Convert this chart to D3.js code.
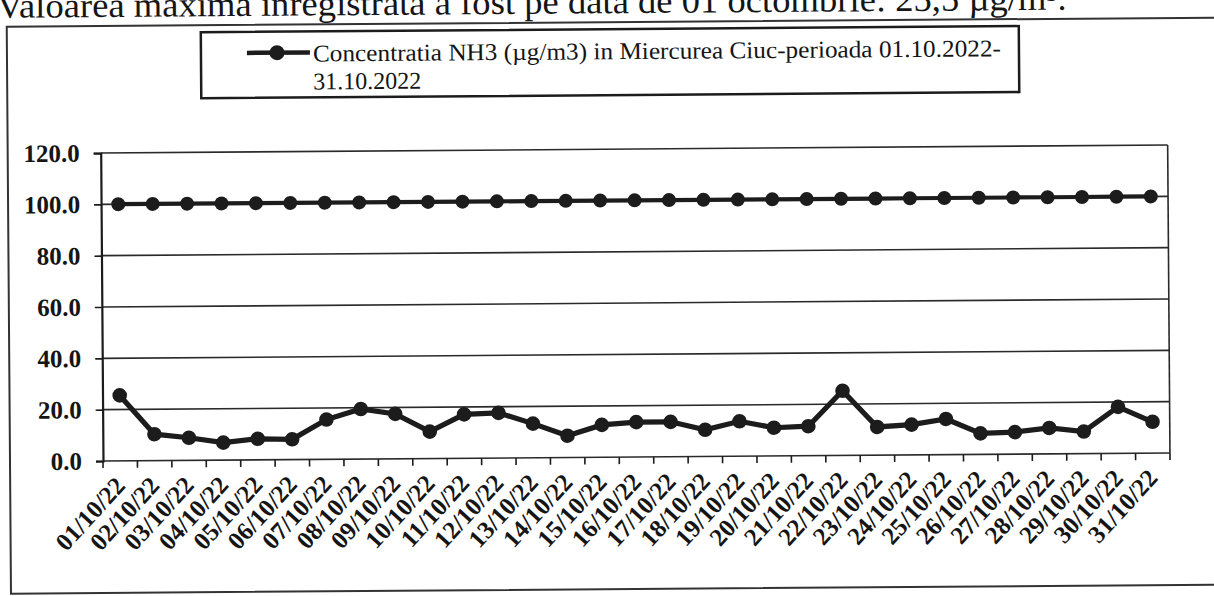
<!DOCTYPE html>
<html>
<head>
<meta charset="utf-8">
<script src="https://cdn.jsdelivr.net/npm/d3@7"></script>
<style>
  body { margin: 0; background: #fff; }
  text { font-family: "Liberation Serif", "Times New Roman", serif; fill: #151515; }
</style>
</head>
<body>
<div id="chart"></div>
<script>
// daily values
var dates = ["01/10/22", "02/10/22", "03/10/22", "04/10/22", "05/10/22", "06/10/22",
    "07/10/22", "08/10/22", "09/10/22", "10/10/22", "11/10/22", "12/10/22", "13/10/22",
    "14/10/22", "15/10/22", "16/10/22", "17/10/22", "18/10/22", "19/10/22", "20/10/22",
    "21/10/22", "22/10/22", "23/10/22", "24/10/22", "25/10/22", "26/10/22", "27/10/22",
    "28/10/22", "29/10/22", "30/10/22", "31/10/22"];
var nh3 = [25.5, 10.3, 8.8, 6.8, 8.2, 7.9, 15.5, 19.5, 17.5, 10.5, 17.1, 17.6, 13.3,
    8.5, 12.6, 13.6, 13.6, 10.4, 13.6, 11.0, 11.5, 25.2, 11.0, 11.8, 13.9, 8.2, 8.6,
    10.1, 8.6, 18.1, 12.2];
var limita = [100, 100, 100, 100, 100, 100, 100, 100, 100, 100, 100, 100, 100, 100, 100,
    100, 100, 100, 100, 100, 100, 100, 100, 100, 100, 100, 100, 100, 100, 100, 100];
var yTicks = [0, 20, 40, 60, 80, 100, 120];
var headerText = "Valoarea maxima inregistrata a fost pe data de 01 octombrie: 25,5 \u00b5g/m\u00b3.";
var legendLine1 = "Concentratia NH3 (\u00b5g/m3) in Miercurea Ciuc-perioada 01.10.2022-";
var legendLine2 = "31.10.2022";

function draw()
{
    var width = 1214, height = 596;
    var plotLeft = 103, plotRight = 1170, plotTop = 153, plotBottom = 461;
    var ink = "#1c1c1c";

    var svg = d3.select("#chart").append("svg")
            .attr("width", width)
            .attr("height", height);

    // the scan is slightly tilted, whole page turns a bit
    var page = svg.append("g")
            .attr("transform", "rotate(-0.43, " + plotLeft + ", " + plotBottom + ")");

    page.append("text")
            .attr("x", 0).attr("y", 17)
            .attr("font-size", 35)
            .attr("textLength", 1070)
            .attr("lengthAdjust", "spacingAndGlyphs")
            .text(headerText);

    // outer frame
    page.append("rect")
            .attr("x", 10).attr("y", 26)
            .attr("width", 1230).attr("height", 567)
            .attr("fill", "none")
            .attr("stroke", "#333")
            .attr("stroke-width", 2);

    // legend
    var legend = page.append("g");
    legend.append("rect")
            .attr("x", 204).attr("y", 33)
            .attr("width", 818).attr("height", 66)
            .attr("fill", "#fff")
            .attr("stroke", ink)
            .attr("stroke-width", 2.5);
    legend.append("line")
            .attr("x1", 250).attr("x2", 313)
            .attr("y1", 54).attr("y2", 54)
            .attr("stroke", ink).attr("stroke-width", 4.5);
    legend.append("circle")
            .attr("cx", 280).attr("cy", 54).attr("r", 7.5)
            .attr("fill", ink);
    legend.append("text")
            .attr("x", 316).attr("y", 63)
            .attr("font-size", 24)
            .attr("textLength", 688)
            .attr("lengthAdjust", "spacingAndGlyphs")
            .text(legendLine1);
    legend.append("text")
            .attr("x", 316).attr("y", 91)
            .attr("font-size", 24)
            .text(legendLine2);

    var x = d3.scaleBand().domain(dates).range([plotLeft, plotRight]).padding(0);
    var y = d3.scaleLinear().domain([0, 120]).range([plotBottom, plotTop]);
    var cx = function (d) { return x(d) + x.bandwidth() / 2; };

    var chart = page.append("g");

    // gridlines
    chart.selectAll("line.grid")
            .data(yTicks)
            .enter().append("line")
            .attr("class", "grid")
            .attr("x1", plotLeft).attr("x2", plotRight)
            .attr("y1", function (d) { return y(d); })
            .attr("y2", function (d) { return y(d); })
            .attr("stroke", "#2a2a2a")
            .attr("stroke-width", 1.6);

    // right border of the plot area
    chart.append("line")
            .attr("x1", plotRight).attr("x2", plotRight)
            .attr("y1", y(120)).attr("y2", y(0))
            .attr("stroke", "#2a2a2a").attr("stroke-width", 1.6);

    // y axis
    var yAxis = chart.append("g")
            .attr("transform", "translate(" + plotLeft + ",0)")
            .call(d3.axisLeft(y).tickValues(yTicks).tickFormat(d3.format(".1f")).tickSize(7).tickPadding(14));
    yAxis.select(".domain").attr("stroke", ink).attr("stroke-width", 2.2);
    yAxis.selectAll(".tick line").attr("stroke", ink).attr("stroke-width", 1.6);
    yAxis.selectAll(".tick text")
            .attr("font-family", "Liberation Serif, serif")
            .attr("font-size", 25)
            .attr("font-weight", "bold")
            .attr("fill", "#151515");

    // x axis: labels under each day, ticks on the day boundaries
    var xAxis = chart.append("g")
            .attr("transform", "translate(0," + plotBottom + ")")
            .call(d3.axisBottom(x).tickSize(0).tickPadding(0));
    xAxis.select(".domain").remove();
    xAxis.selectAll(".tick text")
            .attr("font-family", "Liberation Serif, serif")
            .attr("font-size", 25)
            .attr("font-weight", "bold")
            .attr("fill", "#151515")
            .attr("text-anchor", "end")
            .attr("dy", 0)
            .attr("transform", "translate(6,26) rotate(-47)");

    var edges = dates.map(function (d) { return x(d); }).concat([plotRight]);
    chart.selectAll("line.xtick")
            .data(edges)
            .enter().append("line")
            .attr("class", "xtick")
            .attr("x1", function (d) { return d; })
            .attr("x2", function (d) { return d; })
            .attr("y1", plotBottom).attr("y2", plotBottom + 7)
            .attr("stroke", ink).attr("stroke-width", 1.6);

    // series
    var line = d3.line()
            .x(function (d, i) { return cx(dates[i]); })
            .y(function (d) { return y(d); });

    chart.append("path")
            .datum(limita)
            .attr("d", line)
            .attr("fill", "none")
            .attr("stroke", ink)
            .attr("stroke-width", 4.2);
    chart.selectAll("circle.lim")
            .data(limita)
            .enter().append("circle")
            .attr("class", "lim")
            .attr("cx", function (d, i) { return cx(dates[i]); })
            .attr("cy", function (d) { return y(d); })
            .attr("r", 7)
            .attr("fill", ink);

    chart.append("path")
            .datum(nh3)
            .attr("d", line)
            .attr("fill", "none")
            .attr("stroke", ink)
            .attr("stroke-width", 5.2);
    chart.selectAll("circle.nh3")
            .data(nh3)
            .enter().append("circle")
            .attr("class", "nh3")
            .attr("cx", function (d, i) { return cx(dates[i]); })
            .attr("cy", function (d) { return y(d); })
            .attr("r", 7.3)
            .attr("fill", ink);
}

draw();
</script>
</body>
</html>
